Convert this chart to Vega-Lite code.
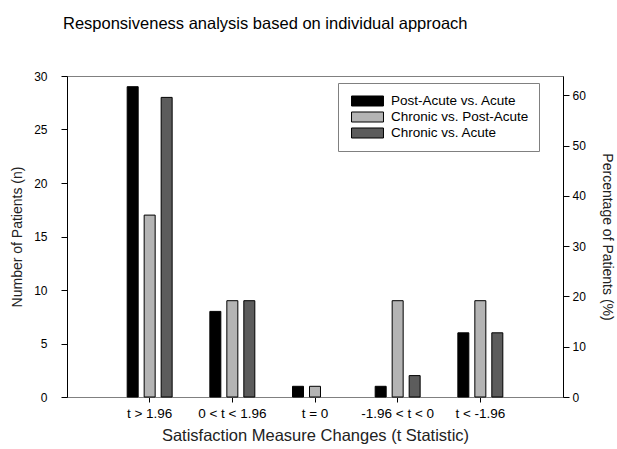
{
  "$schema": "https://vega.github.io/schema/vega-lite/v6.json",
  "width": 496,
  "height": 321,
  "autosize": {"type": "none"},
  "padding": {"left": 67, "top": 76, "right": 54, "bottom": 52},
  "background": "white",
  "title": {
    "text": "Responsiveness analysis based on individual approach",
    "font": "Liberation Sans",
    "fontSize": 16.5,
    "fontWeight": "normal",
    "color": "black",
    "anchor": "start",
    "frame": "group",
    "dx": -4,
    "offset": 38
  },
  "config": {
    "view": {"stroke": "#808080", "strokeWidth": 1},
    "axis": {
      "labelFont": "Liberation Sans",
      "titleFont": "Liberation Sans",
      "labelFontSize": 12,
      "titleFontSize": 14,
      "titleFontWeight": "normal",
      "labelColor": "black",
      "titleColor": "#222222",
      "grid": false,
      "tickColor": "black",
      "domainColor": "black"
    },
    "legend": {
      "labelFont": "Liberation Sans",
      "labelFontSize": 13.5,
      "labelColor": "black"
    }
  },
  "data": {
    "values": [
      {"cat": "t > 1.96", "series": "Post-Acute vs. Acute", "n": 29, "pct": 61.7},
      {"cat": "t > 1.96", "series": "Chronic vs. Post-Acute", "n": 17, "pct": 36.2},
      {"cat": "t > 1.96", "series": "Chronic vs. Acute", "n": 28, "pct": 59.6},
      {"cat": "0 < t < 1.96", "series": "Post-Acute vs. Acute", "n": 8, "pct": 17.0},
      {"cat": "0 < t < 1.96", "series": "Chronic vs. Post-Acute", "n": 9, "pct": 19.1},
      {"cat": "0 < t < 1.96", "series": "Chronic vs. Acute", "n": 9, "pct": 19.1},
      {"cat": "t = 0", "series": "Post-Acute vs. Acute", "n": 1, "pct": 2.1},
      {"cat": "t = 0", "series": "Chronic vs. Post-Acute", "n": 1, "pct": 2.1},
      {"cat": "-1.96 < t < 0", "series": "Post-Acute vs. Acute", "n": 1, "pct": 2.1},
      {"cat": "-1.96 < t < 0", "series": "Chronic vs. Post-Acute", "n": 9, "pct": 19.1},
      {"cat": "-1.96 < t < 0", "series": "Chronic vs. Acute", "n": 2, "pct": 4.3},
      {"cat": "t < -1.96", "series": "Post-Acute vs. Acute", "n": 6, "pct": 12.8},
      {"cat": "t < -1.96", "series": "Chronic vs. Post-Acute", "n": 9, "pct": 19.1},
      {"cat": "t < -1.96", "series": "Chronic vs. Acute", "n": 6, "pct": 12.8}
    ]
  },
  "encoding": {
    "x": {
      "field": "cat",
      "type": "nominal",
      "sort": ["t > 1.96", "0 < t < 1.96", "t = 0", "-1.96 < t < 0", "t < -1.96"],
      "scale": {"paddingInner": 0.456, "paddingOuter": 0.728},
      "axis": {
        "title": "Satisfaction Measure Changes (t Statistic)",
        "titleFontSize": 16.5,
        "labelFontSize": 13.5,
        "labelAngle": 0,
        "tickSize": 5,
        "labelPadding": 4,
        "titlePadding": 8,
        "domainColor": "#808080"
      }
    },
    "xOffset": {
      "field": "series",
      "type": "nominal",
      "sort": ["Post-Acute vs. Acute", "Chronic vs. Post-Acute", "Chronic vs. Acute"],
      "scale": {"domain": ["Post-Acute vs. Acute", "Chronic vs. Post-Acute", "Chronic vs. Acute"], "paddingInner": 0.353, "paddingOuter": 0}
    }
  },
  "layer": [
    {
      "mark": {"type": "bar", "stroke": "black", "strokeWidth": 1},
      "encoding": {
        "y": {
          "field": "n",
          "type": "quantitative",
          "scale": {"domain": [0, 30], "nice": false},
          "axis": {
            "title": "Number of Patients (n)",
            "values": [0, 5, 10, 15, 20, 25, 30],
            "tickSize": 6,
            "labelPadding": 14,
            "titlePadding": 9
          }
        },
        "color": {
          "field": "series",
          "type": "nominal",
          "sort": ["Post-Acute vs. Acute", "Chronic vs. Post-Acute", "Chronic vs. Acute"],
          "scale": {
            "domain": ["Post-Acute vs. Acute", "Chronic vs. Post-Acute", "Chronic vs. Acute"],
            "range": ["#000000", "#b4b4b4", "#5c5c5c"]
          },
          "legend": {
            "title": null,
            "orient": "none",
            "legendX": 271,
            "legendY": 7,
            "fillColor": "white",
            "strokeColor": "#808080",
            "padding": 10,
            "symbolType": "M-2.13,-0.667H2.13V0.667H-2.13Z",
            "symbolSize": 225,
            "symbolStrokeColor": "black",
            "symbolStrokeWidth": 1,
            "symbolOpacity": 1,
            "symbolOffset": 11.5,
            "labelOffset": 15.5,
            "rowPadding": -2
          }
        }
      }
    },
    {
      "mark": {"type": "bar", "opacity": 0},
      "encoding": {
        "y": {
          "field": "pct",
          "type": "quantitative",
          "scale": {"domain": [0, 63.83], "nice": false},
          "axis": {
            "orient": "right",
            "title": "Percentage of Patients (%)",
            "titleAngle": 90,
            "values": [0, 10, 20, 30, 40, 50, 60],
            "tickSize": 6,
            "labelPadding": 3,
            "titlePadding": 14
          }
        }
      }
    }
  ],
  "resolve": {"scale": {"y": "independent"}}
}
